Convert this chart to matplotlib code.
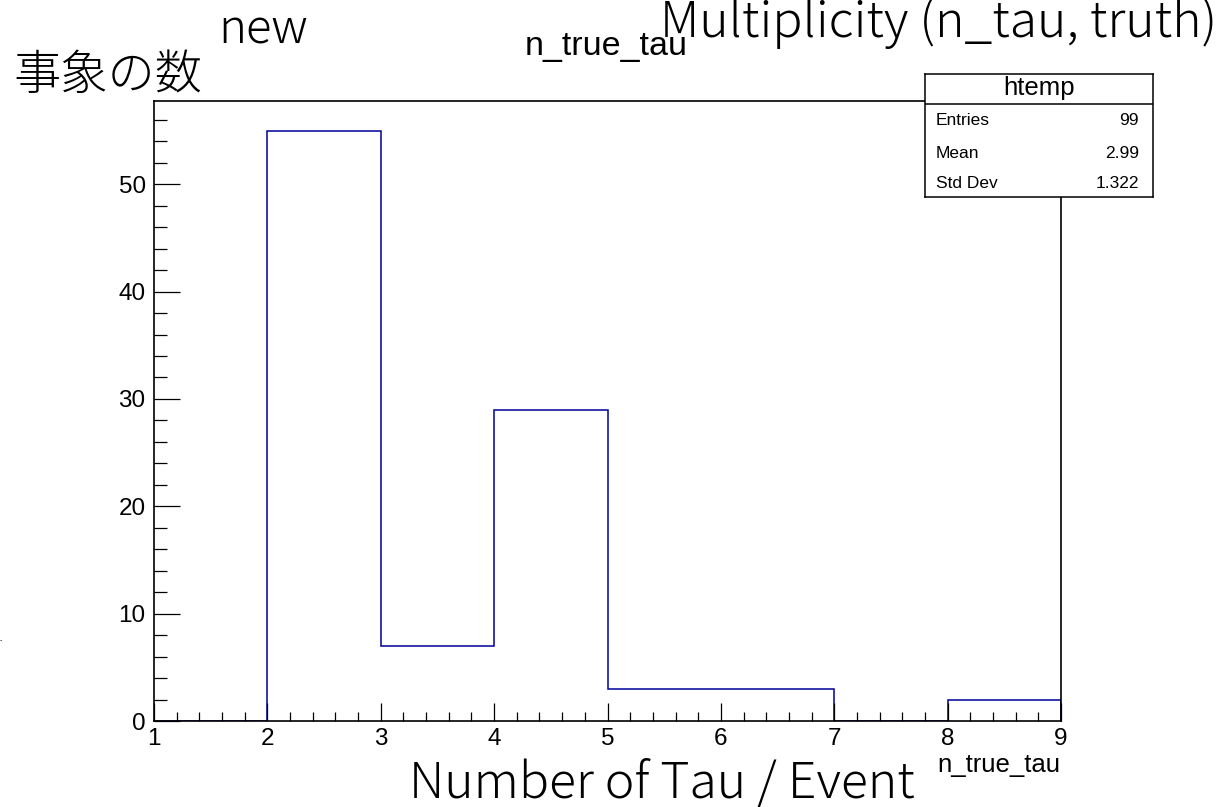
import numpy as np
import matplotlib
matplotlib.use("Agg")
import matplotlib.pyplot as plt

# ヒストグラムのデータ
bin_edges = [1, 2, 3, 4, 5, 6, 7, 8, 9]
counts = [0, 55, 7, 29, 3, 3, 0, 2]
x_ticks = [1, 2, 3, 4, 5, 6, 7, 8, 9]
y_ticks = [0, 10, 20, 30, 40, 50]
stats_names = ["Entries", "Mean", "Std Dev"]
stats_values = ["99", "2.99", "1.322"]

root_font = "Liberation Sans"
big_font = ["Noto Sans CJK JP", "DejaVu Sans"]

fig = plt.figure(figsize=(12.24, 8.07), dpi=100)
ax = fig.add_axes([154 / 1224, 86 / 807, 907 / 1224, 620 / 807])

ax.stairs(counts, bin_edges, color="#000099", linewidth=1.1, baseline=0, zorder=1)

ax.set_xlim(1, 9)
ax.set_ylim(0, max(counts) * 1.05)
ax.set_xticks(x_ticks)
ax.set_xticks(np.arange(1, 9.01, 0.2), minor=True)
ax.set_yticks(y_ticks)
ax.set_yticks(np.arange(0, 57, 2), minor=True)
ax.tick_params(axis="x", which="major", direction="in", length=13, width=0.9, pad=5)
ax.tick_params(axis="x", which="minor", direction="in", length=6.5, width=0.9)
ax.tick_params(axis="y", which="major", direction="in", length=19, width=0.9, pad=6)
ax.tick_params(axis="y", which="minor", direction="in", length=9.5, width=0.9)
for lab in ax.get_xticklabels() + ax.get_yticklabels():
    lab.set_fontfamily(root_font)
    lab.set_fontsize(17.5)
for s in ax.spines.values():
    s.set_linewidth(1.2)
    s.set_zorder(3)

# ROOT のタイトルと軸ラベル
fig.text(606 / 1224, 1 - 47 / 807, "n_true_tau", family=root_font, fontsize=24.5,
         ha="center", va="center")
fig.text(1060 / 1224, 1 - 765 / 807, "n_true_tau", family=root_font, fontsize=18.5,
         ha="right", va="center")

# 統計ボックス
box = fig.add_axes([925 / 1224, 1 - 197 / 807, 228 / 1224, 123 / 807])
box.set_xticks([])
box.set_yticks([])
box.set_xlim(0, 1)
box.set_ylim(0, 1)
for s in box.spines.values():
    s.set_linewidth(1.1)
div = (197 - 104) / 123
box.axhline(div, color="black", linewidth=1.1)
box.text(0.5, (197 - 88) / 123, "htemp", family=root_font, fontsize=18.5,
         ha="center", va="center")
row_y = [(197 - 121) / 123, (197 - 153) / 123, (197 - 183) / 123]
for name, val, yy in zip(stats_names, stats_values, row_y):
    box.text(0.048, yy, name, family=root_font, fontsize=12.5, ha="left", va="center")
    box.text(0.939, yy, val, family=root_font, fontsize=12.5, ha="right", va="center")

# 追加テキスト
fig.text(13 / 1224, 1 - 89 / 807, "事象の数", family=big_font, fontsize=34,
         weight="light", ha="left", va="baseline")
fig.text(218 / 1224, 1 - 43 / 807, "new", family=big_font, fontsize=34,
         weight="light", ha="left", va="baseline")
fig.text(1217 / 1224, 1 - 37 / 807, "Multiplicity (n_tau, truth)", family=big_font,
         fontsize=36, weight="light", ha="right", va="baseline")
fig.text(662 / 1224, 1 - 798 / 807, "Number of Tau / Event", family=big_font,
         fontsize=36, weight="light", ha="center", va="baseline")
fig.text(0 / 1224, 1 - 641 / 807, "-", family=root_font, fontsize=5,
         ha="left", va="center")

fig.savefig("out.png", dpi=100)
